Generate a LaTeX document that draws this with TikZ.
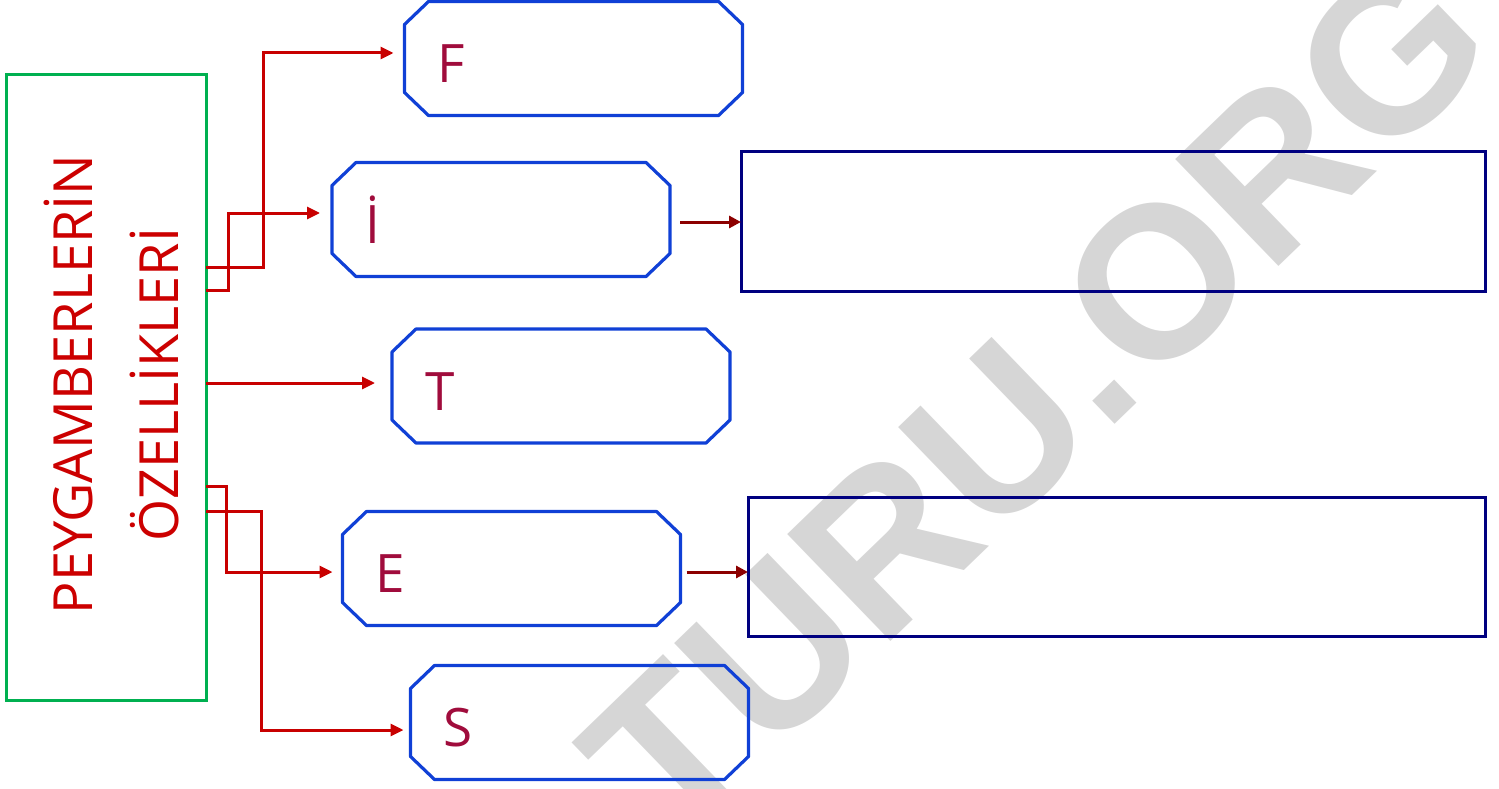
\documentclass[tikz,border=0pt]{standalone}
\usepackage{fontspec}
\setmainfont{Open Sans}
\newfontfamily\damgafont{Liberation Sans}
\usetikzlibrary{arrows.meta}

\definecolor{kutuyesil}{RGB}{0,176,80}
\definecolor{yazikirmizi}{RGB}{204,0,0}
\definecolor{harfrengi}{RGB}{160,12,60}
\definecolor{sekizmavi}{RGB}{16,64,214}
\definecolor{cevapmavi}{RGB}{0,0,128}
\definecolor{dalkirmizi}{RGB}{200,0,0}
\definecolor{okkoyu}{RGB}{140,0,0}
\definecolor{damgagri}{RGB}{214,214,214}

\tikzset{
  anakutu/.style={draw=kutuyesil, line width=3pt, minimum width=200pt, minimum height=625pt, inner sep=0pt, outer sep=0pt},
  baslik/.style={text=yazikirmizi, rotate=90, anchor=base, inner sep=0pt, font=\fontsize{54}{60}\selectfont},
  sekizgen/.style={minimum width=338pt, minimum height=114pt, inner sep=0pt, outer sep=0pt},
  sekizcizgi/.style={draw=sekizmavi, line width=3.2pt, line join=round},
  harf/.style={text=harfrengi, anchor=base west, inner sep=0pt, font=\fontsize{53}{53}\selectfont},
  cevap/.style={draw=cevapmavi, line width=3pt, minimum height=139pt, inner sep=0pt, outer sep=0pt},
  dal/.style={draw=dalkirmizi, line width=3pt, -{Triangle[length=13pt,width=12pt]}},
  sonuc/.style={draw=okkoyu, line width=3pt, -{Triangle[length=12pt,width=12pt]}},
  damga/.style={text=damgagri, rotate=44, inner sep=0pt, font=\damgafont\bfseries\fontsize{216}{216}\selectfont}
}

\begin{document}
\begin{tikzpicture}[x=1pt,y=-1pt]
  \useasboundingbox (0,0) rectangle (1499,789);

  % Watermark
  \node[damga] (wm) at (1036,398) {TURU.ORG};

  % Main box with title
  \node[anakutu] (pk) at (106,387.5) {};
  \node[baslik] (pk1) at (92,384.5) {PEYGAMBERLERİN};
  \node[baslik] (pk2) at (178,384.5) {ÖZELLİKLERİ};

  % Octagon boxes
  \node[sekizgen] (f) at (573.5,58.5) {};
  \node[sekizgen] (i) at (501,219.5) {};
  \node[sekizgen] (t) at (561,386) {};
  \node[sekizgen] (e) at (511.5,568.5) {};
  \node[sekizgen] (s) at (579.5,722.5) {};
  \foreach \n in {f,i,t,e,s}
    \draw[sekizcizgi] ([xshift=24pt]\n.north west) -- ([xshift=-24pt]\n.north east)
      -- ([yshift=-23pt]\n.north east) -- ([yshift=23pt]\n.south east)
      -- ([xshift=-24pt]\n.south east) -- ([xshift=24pt]\n.south west)
      -- ([yshift=23pt]\n.south west) -- ([yshift=-23pt]\n.north west) -- cycle;

  % Letters
  \node[harf] (fh) at ([xshift=33pt,yshift=-24pt]f.west) {F};
  \node[harf] (ih) at ([xshift=33pt,yshift=-24pt]i.west) {İ};
  \node[harf] (th) at ([xshift=33pt,yshift=-24pt]t.west) {T};
  \node[harf] (eh) at ([xshift=33pt,yshift=-24pt]e.west) {E};
  \node[harf] (sh) at ([xshift=33pt,yshift=-24pt]s.west) {S};

  % Answer boxes
  \node[cevap, minimum width=744pt] (c1) at (1113,221.5) {};
  \node[cevap, minimum width=737pt] (c2) at (1116.5,566.5) {};

  % Branches from the main box
  \draw[dal, shorten >=11pt] (pk.east |- 0,267) -| (263,53) -- (f.west |- 0,53);
  \draw[dal, shorten >=12pt] (pk.east |- 0,290) -| (228,213) -- (i.west |- 0,213);
  \draw[dal, shorten >=17pt] (pk.east |- 0,383) -- (t.west |- 0,383);
  \draw[dal, shorten >=10pt] (pk.east |- 0,486) -| (226,572) -- (e.west |- 0,572);
  \draw[dal, shorten >=7pt] (pk.east |- 0,511) -| (261,730) -- (s.west |- 0,730);

  % Arrows to answer boxes
  \draw[sonuc, shorten <=10pt] (i.east |- 0,222) -- (c1.west |- 0,222);
  \draw[sonuc, shorten <=6pt] (e.east |- 0,572) -- (c2.west |- 0,572);
\end{tikzpicture}
\end{document}
